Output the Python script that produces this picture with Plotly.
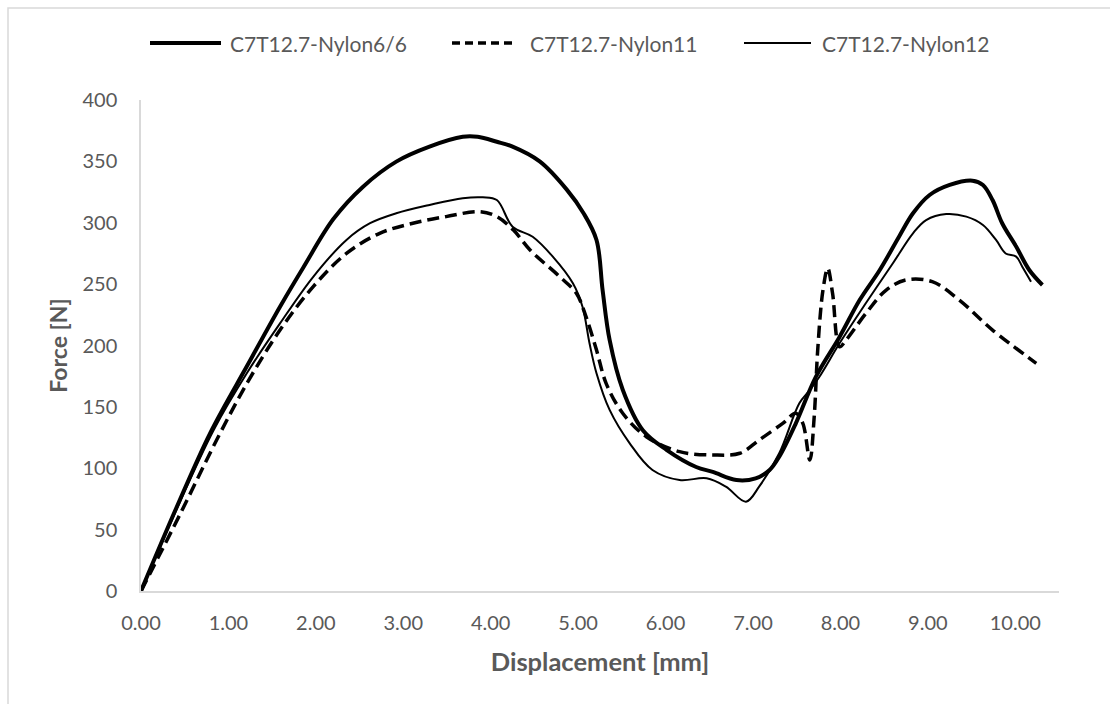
import plotly.graph_objects as go

# ---- data ----
series_names = ["C7T12.7-Nylon6/6", "C7T12.7-Nylon11", "C7T12.7-Nylon12"]

x_nylon66 = [0, 0.40, 0.79, 1.23, 1.59, 1.86, 2.20, 2.54, 2.92, 3.30, 3.68, 3.85, 4.07, 4.25,
             4.56, 4.87, 5.06, 5.21, 5.28, 5.36, 5.51, 5.74, 6.01, 6.35, 6.54, 6.81, 7.03, 7.19,
             7.30, 7.49, 7.72, 7.99, 8.22, 8.45, 8.67, 8.83, 9.02, 9.25, 9.51, 9.63, 9.74, 9.85,
             10.01, 10.16, 10.31]
y_nylon66 = [0, 67, 128.5, 185.5, 231.6, 264, 303, 329.4, 349.8, 362, 370, 370, 366, 362,
             350, 327, 308, 286, 245, 204.5, 164, 131, 115, 101, 97, 90.4, 91.8, 98.6,
             109.4, 136.6, 174.6, 207, 237, 261.5, 288.6, 307.7, 322.6, 330.8, 334.3, 330.8, 318.5, 299.6,
             280.6, 261.5, 249.3]

x_nylon11 = [0, 0.45, 0.865, 1.21, 1.59, 1.97, 2.35, 2.73, 3.11, 3.49, 3.87, 4.07, 4.26, 4.45,
             4.79, 4.98, 5.09, 5.21, 5.32, 5.51, 5.78, 6.16, 6.54, 6.85, 7.07, 7.34, 7.49, 7.57,
             7.65, 7.70, 7.74, 7.80, 7.855, 7.91, 7.99, 8.065, 8.29, 8.52, 8.75, 9.05, 9.36, 9.74, 10.24]
y_nylon11 = [0, 63, 123, 169, 212.6, 248, 275, 291.4, 299.6, 305, 309, 305, 294, 277.8,
             256, 242.5, 223.5, 196.3, 169.2, 144.8, 125.7, 113.5, 110.8, 112.2, 123, 136.6, 144.8, 136.6,
             106.7, 142, 196.3, 245, 262.9, 242.5, 199, 204.5, 226, 245, 253.4, 252, 237, 212.6, 185.5]

x_nylon12 = [0, 0.37, 0.83, 1.21, 1.59, 1.97, 2.35, 2.62, 2.92, 3.30, 3.68, 3.91, 4.07, 4.25,
             4.48, 4.71, 4.94, 5.05, 5.13, 5.21, 5.36, 5.59, 5.85, 6.16, 6.47, 6.69, 6.92, 7.07,
             7.30, 7.53, 7.65, 7.76, 7.99, 8.29, 8.60, 8.83, 8.98, 9.21, 9.44, 9.63, 9.78, 9.89,
             10.01, 10.08, 10.18]
y_nylon12 = [0, 60.5, 131, 177.4, 218, 256, 286, 299.6, 307.7, 314.5, 320, 320.7, 318.5, 296.8,
             288.6, 272.4, 250.7, 231.6, 201.8, 177.4, 147.5, 120.3, 98.6, 90.4, 91.8, 85, 72.8, 85,
             112.2, 152.9, 163.8, 174.6, 201.8, 234.4, 267, 291.4, 302.2, 307.1, 305, 298.2, 286, 275,
             272.4, 264.2, 252]

x_title = "Displacement [mm]"
y_title = "Force [N]"

# ---- layout constants ----
W, H = 1110, 704
ML, MR, MT, MB = 141, 51, 100, 113
PW, PH = W - ML - MR, H - MT - MB
TXT = "#595959"
GRID = "#d9d9d9"
FONT = "Lato"


def px_x(p):
    return (p - ML) / PW


def px_y(p):
    return (H - MB - p) / PH


styles = [
    dict(color="black", width=4, dash="solid"),
    dict(color="black", width=3.5, dash="12px,6px"),
    dict(color="black", width=2, dash="solid"),
]
data = [(x_nylon66, y_nylon66), (x_nylon11, y_nylon11), (x_nylon12, y_nylon12)]

fig = go.Figure()
for name, (xs, ys), st in zip(series_names, data, styles):
    fig.add_trace(go.Scatter(x=xs, y=ys, mode="lines", name=name,
                             line=dict(shape="spline", smoothing=1.0, **st),
                             showlegend=False))

# custom legend (Excel-style long line samples)
legend_pos = [(150, 221, 228), (452, 512, 528), (744, 811, 820)]
legend_dash = ["solid", "8px,5px", "solid"]
shapes = []
annotations = []
ly = 43
for name, (a, b, t), st, dsh in zip(series_names, legend_pos, styles, legend_dash):
    shapes.append(dict(type="line", xref="paper", yref="paper",
                       x0=px_x(a), x1=px_x(b), y0=px_y(ly), y1=px_y(ly),
                       line=dict(color="black", width=st["width"], dash=dsh)))
    annotations.append(dict(xref="paper", yref="paper", x=px_x(t), y=px_y(ly),
                            xanchor="left", yanchor="middle", showarrow=False,
                            text=name, font=dict(family=FONT, size=21, color=TXT)))

# chart border
shapes.append(dict(type="rect", xref="paper", yref="paper",
                   x0=px_x(8), x1=px_x(1125), y0=px_y(720), y1=px_y(8),
                   line=dict(color=GRID, width=1.5), layer="below"))

fig.update_layout(
    width=W, height=H,
    margin=dict(l=ML, r=MR, t=MT, b=MB, pad=0),
    paper_bgcolor="white", plot_bgcolor="white",
    font=dict(family=FONT, size=20, color=TXT),
    showlegend=False,
    shapes=shapes, annotations=annotations,
    xaxis=dict(range=[0, 10.5], dtick=1, tick0=0, tickformat=".2f",
               showgrid=False, zeroline=False, showline=True, linecolor=GRID, linewidth=1.5,
               ticks="outside", ticklen=13, tickcolor="rgba(0,0,0,0)",
               tickfont=dict(family=FONT, size=20, color=TXT),
               title=dict(text=x_title, standoff=20,
                          font=dict(family=FONT, size=25.5, color=TXT, weight="bold"))),
    yaxis=dict(range=[0, 400], dtick=50, tick0=0,
               showgrid=False, zeroline=False, showline=True, linecolor=GRID, linewidth=1.5,
               ticks="outside", ticklen=18, tickcolor="rgba(0,0,0,0)",
               tickfont=dict(family=FONT, size=20, color=TXT),
               title=dict(text=y_title, standoff=8,
                          font=dict(family=FONT, size=23, color=TXT, weight="bold"))),
)

fig.write_html("out.html")
